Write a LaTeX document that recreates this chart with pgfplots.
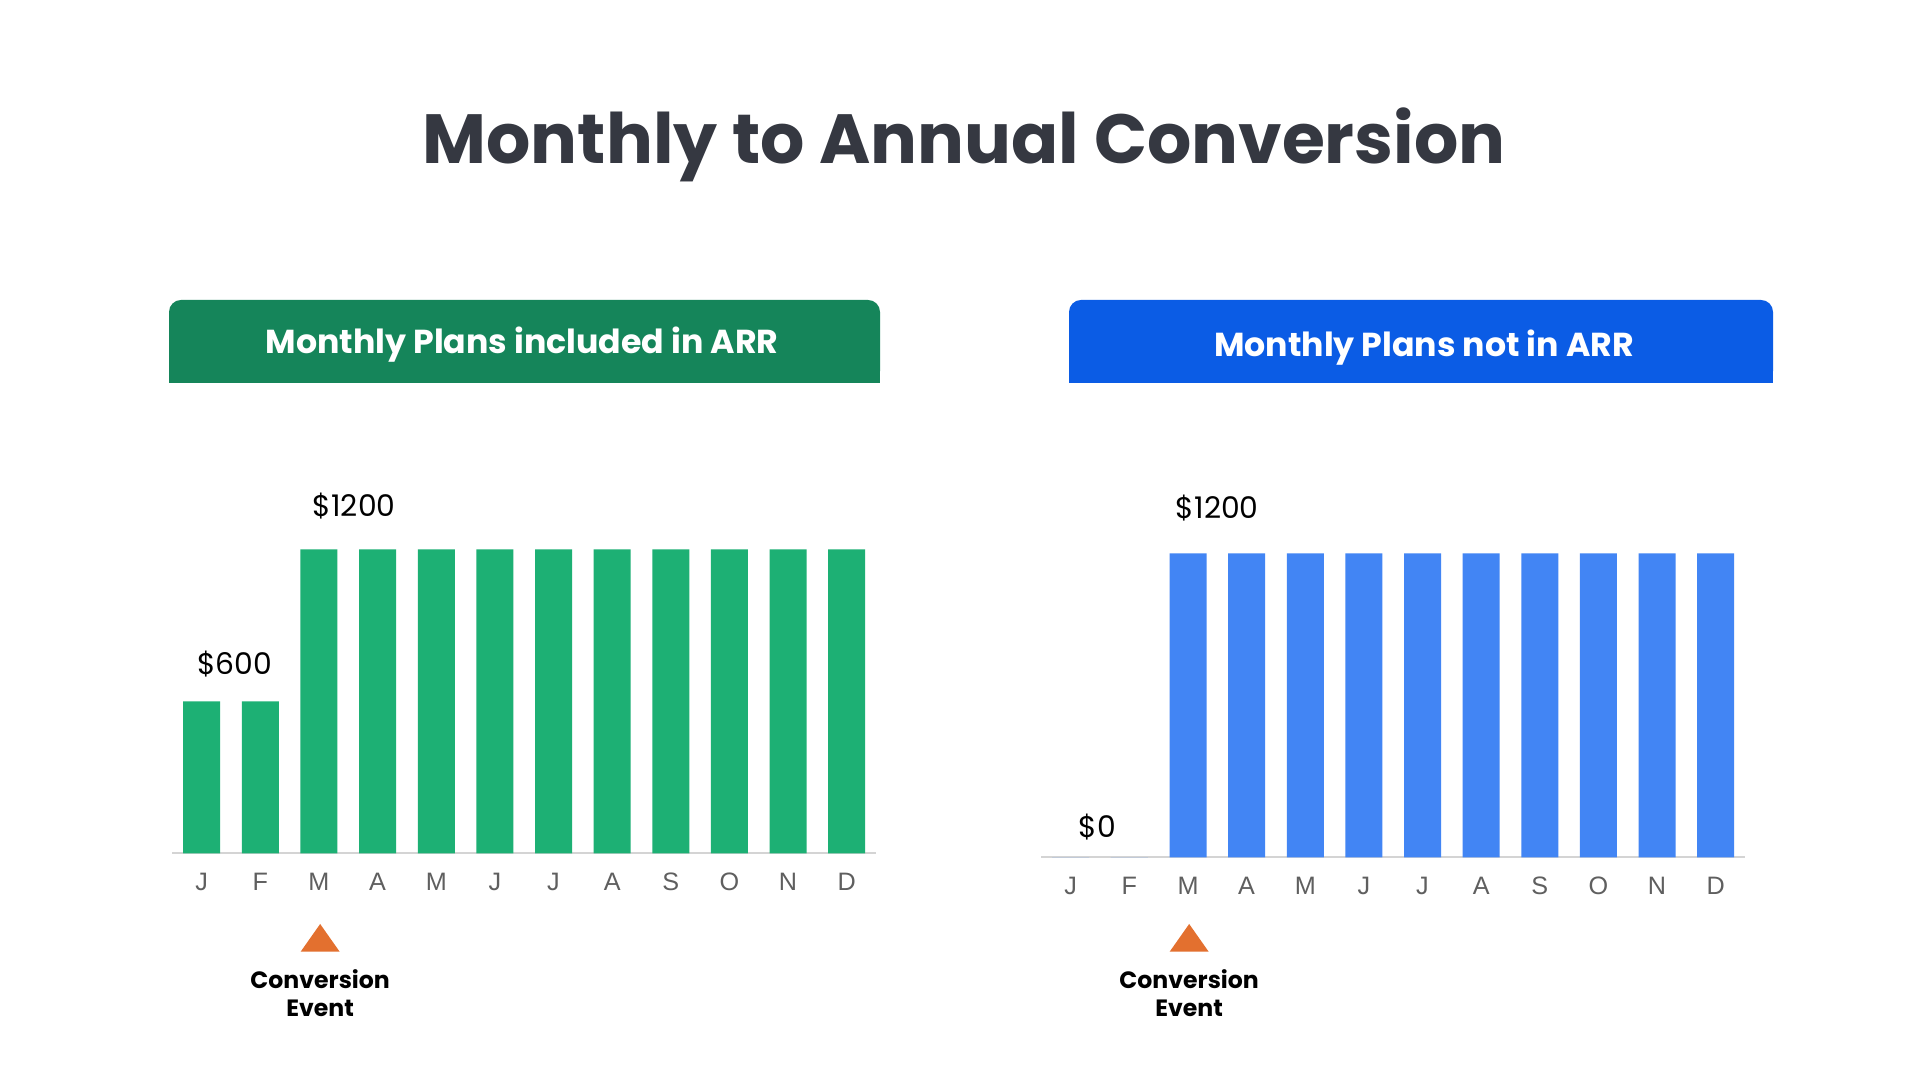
\documentclass[border=0pt]{standalone}
\usepackage{pgfplots}
\pgfplotsset{compat=1.18}
\usepackage{fontspec}
\setmainfont{Poppins}
\newfontfamily\tickfont{Liberation Sans}

\definecolor{titlegray}{RGB}{53,56,65}
\definecolor{hdrgreen}{RGB}{21,133,90}
\definecolor{hdrblue}{RGB}{11,92,229}
\definecolor{bargreen}{RGB}{29,176,116}
\definecolor{barblue}{RGB}{66,133,244}
\definecolor{evorange}{RGB}{227,112,47}
\definecolor{tickgray}{RGB}{95,95,95}
\definecolor{basegray}{RGB}{212,212,212}

\pgfplotsset{
  monthbars/.style={
    scale only axis, width=351.8pt, height=152pt,
    xmin=-0.5, xmax=11.5, ymin=0, ymax=1200,
    anchor=south west, clip=false,
    axis y line=none, axis x line=bottom,
    x axis line style={draw=basegray, line width=1pt, -},
    xtick={0,...,11},
    xticklabels={J,F,M,A,M,J,J,A,S,O,N,D},
    major tick length=0pt,
    xticklabel style={font=\tickfont\fontsize{12.6}{14}\selectfont, text=tickgray, anchor=base, yshift=-18.6pt},
    ybar, bar width=18.5pt,
  },
}
\tikzset{
  vallabel/.style={anchor=base, font=\fontsize{14.9}{18}\selectfont, text=black},
  evlabel/.style={anchor=base, font=\fontsize{11.8}{14}\selectfont\bfseries, text=black},
}

\begin{document}
\begin{tikzpicture}[x=1pt, y=1pt]
\fill[white] (0,0) rectangle (960,540);
\path[use as bounding box] (0,0) rectangle (960,540);

% title
\node[anchor=base, text=titlegray, font=\fontsize{34.8}{40}\selectfont\bfseries] at (482,458.35) {Monthly to Annual Conversion};

% header panels
\fill[hdrgreen, rounded corners=6pt] (84.5,348.5) rectangle (440,390);
\fill[hdrgreen] (84.5,348.5) rectangle (440,370);
\node[anchor=base, text=white, font=\fontsize{16.6}{18}\selectfont\bfseries] at (261,363) {Monthly Plans included in ARR};

\fill[hdrblue, rounded corners=6pt] (534.5,348.5) rectangle (886.5,390);
\fill[hdrblue] (534.5,348.5) rectangle (886.5,370);
\node[anchor=base, text=white, font=\fontsize{16.6}{18}\selectfont\bfseries] at (712,361.8) {Monthly Plans not in ARR};

% left chart
\begin{axis}[monthbars, at={(86.2pt,113.35pt)}]
  \addplot[fill=bargreen, draw=none] coordinates {
    (0,600) (1,600) (2,1200) (3,1200) (4,1200) (5,1200)
    (6,1200) (7,1200) (8,1200) (9,1200) (10,1200) (11,1200)
  };
  \node[vallabel] at (axis cs:0.56,600) [yshift=13.6pt] {\$600};
  \node[vallabel] at (axis cs:2.6,1200) [yshift=16.2pt] {\$1200};
  \fill[evorange] (axis cs:2.02,0) ++(0pt,-35.35pt) -- ++(9.75pt,-13.85pt) -- ++(-19.5pt,0pt) -- cycle;
  \node[evlabel] at (axis cs:2.02,0) [yshift=-67.85pt] {Conversion};
  \node[evlabel] at (axis cs:2.02,0) [yshift=-81.85pt] {Event};
\end{axis}

% right chart
\begin{axis}[monthbars, at={(520.7pt,111.35pt)}]
  \addplot[fill=barblue, draw=none] coordinates {
    (0,0) (1,0) (2,1200) (3,1200) (4,1200) (5,1200)
    (6,1200) (7,1200) (8,1200) (9,1200) (10,1200) (11,1200)
  };
  \node[vallabel] at (axis cs:0.45,0) [yshift=9.65pt] {\$0};
  \node[vallabel] at (axis cs:2.5,1200) [yshift=17.6pt] {\$1200};
  \fill[evorange] (axis cs:2.02,0) ++(0pt,-33.35pt) -- ++(9.75pt,-13.85pt) -- ++(-19.5pt,0pt) -- cycle;
  \node[evlabel] at (axis cs:2.02,0) [yshift=-65.85pt] {Conversion};
  \node[evlabel] at (axis cs:2.02,0) [yshift=-79.85pt] {Event};
\end{axis}
\end{tikzpicture}
\end{document}
